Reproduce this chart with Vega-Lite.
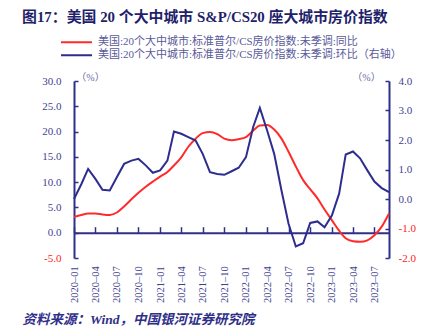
{
  "$schema": "https://vega.github.io/schema/vega-lite/v6.json",
  "width": 315,
  "height": 177,
  "autosize": {"type": "none"},
  "padding": {"left": 74, "top": 81, "right": 46, "bottom": 78},
  "background": "white",
  "title": {
    "text": "图17：美国 20 个大中城市 S&P/CS20 座大城市房价指数",
    "anchor": "start",
    "frame": "group",
    "dx": -52,
    "offset": 11,
    "font": "Liberation Serif, Noto Sans CJK SC",
    "fontSize": 14.9,
    "fontWeight": "bold",
    "color": "#1F1F6B"
  },
  "config": {"view": {"stroke": null}, "axis": {"grid": false}},
  "data": {
    "values": [
      {"date": "2020/01/01", "yoy": 3.1, "mom": 0.0},
      {"date": "2020/02/01", "yoy": 3.5, "mom": 0.5},
      {"date": "2020/03/01", "yoy": 3.8, "mom": 1.02},
      {"date": "2020/04/01", "yoy": 3.8, "mom": 0.68},
      {"date": "2020/05/01", "yoy": 3.6, "mom": 0.31},
      {"date": "2020/06/01", "yoy": 3.5, "mom": 0.29},
      {"date": "2020/07/01", "yoy": 4.0, "mom": 0.74},
      {"date": "2020/08/01", "yoy": 5.2, "mom": 1.19},
      {"date": "2020/09/01", "yoy": 6.6, "mom": 1.3},
      {"date": "2020/10/01", "yoy": 7.9, "mom": 1.36},
      {"date": "2020/11/01", "yoy": 9.1, "mom": 1.14},
      {"date": "2020/12/01", "yoy": 10.1, "mom": 0.89},
      {"date": "2021/01/01", "yoy": 11.1, "mom": 0.97},
      {"date": "2021/02/01", "yoy": 12.0, "mom": 1.3},
      {"date": "2021/03/01", "yoy": 13.3, "mom": 2.29},
      {"date": "2021/04/01", "yoy": 14.9, "mom": 2.21},
      {"date": "2021/05/01", "yoy": 17.0, "mom": 2.1},
      {"date": "2021/06/01", "yoy": 18.6, "mom": 1.98},
      {"date": "2021/07/01", "yoy": 19.7, "mom": 1.53},
      {"date": "2021/08/01", "yoy": 19.9, "mom": 0.91},
      {"date": "2021/09/01", "yoy": 19.5, "mom": 0.85},
      {"date": "2021/10/01", "yoy": 18.6, "mom": 0.82},
      {"date": "2021/11/01", "yoy": 18.3, "mom": 0.94},
      {"date": "2021/12/01", "yoy": 18.5, "mom": 1.06},
      {"date": "2022/01/01", "yoy": 18.9, "mom": 1.42},
      {"date": "2022/02/01", "yoy": 20.2, "mom": 2.45},
      {"date": "2022/03/01", "yoy": 21.2, "mom": 3.09},
      {"date": "2022/04/01", "yoy": 21.3, "mom": 2.32},
      {"date": "2022/05/01", "yoy": 20.4, "mom": 1.53},
      {"date": "2022/06/01", "yoy": 18.6, "mom": 0.29},
      {"date": "2022/07/01", "yoy": 16.0, "mom": -0.84},
      {"date": "2022/08/01", "yoy": 13.1, "mom": -1.61},
      {"date": "2022/09/01", "yoy": 10.4, "mom": -1.5},
      {"date": "2022/10/01", "yoy": 8.6, "mom": -0.81},
      {"date": "2022/11/01", "yoy": 6.8, "mom": -0.76},
      {"date": "2022/12/01", "yoy": 4.6, "mom": -0.96},
      {"date": "2023/01/01", "yoy": 2.5, "mom": -0.56},
      {"date": "2023/02/01", "yoy": 0.4, "mom": 0.18},
      {"date": "2023/03/01", "yoy": -1.1, "mom": 1.51},
      {"date": "2023/04/01", "yoy": -1.7, "mom": 1.61},
      {"date": "2023/05/01", "yoy": -1.8, "mom": 1.38},
      {"date": "2023/06/01", "yoy": -1.5, "mom": 0.97},
      {"date": "2023/07/01", "yoy": -0.5, "mom": 0.59},
      {"date": "2023/08/01", "yoy": 1.2, "mom": 0.37},
      {"date": "2023/09/01", "yoy": 3.8, "mom": 0.23}
    ]
  },
  "layer": [
    {
      "mark": {"type": "line", "strokeWidth": 2, "interpolate": "monotone"},
      "encoding": {
        "x": {
          "field": "date",
          "type": "temporal",
          "scale": {"domain": [{"year": 2020, "month": 1, "date": 1}, {"year": 2023, "month": 9, "date": 1}], "nice": false},
          "axis": {
            "orient": "bottom",
            "offset": -25.3,
            "format": "%Y–%m",
            "formatType": "time",
            "tickCount": {"interval": "month", "step": 3},
            "labelAngle": 270,
            "labelAlign": "right",
            "labelBaseline": "middle",
            "labelFont": "Liberation Serif",
            "labelFontSize": 10.5,
            "labelColor": "#3F3F90",
            "labelPadding": 39,
            "labelOverlap": false,
            "labelFlush": false,
            "domain": true,
            "domainColor": "#2F2F8A",
            "domainWidth": 2,
            "ticks": true,
            "tickColor": "#2F2F8A",
            "tickWidth": 1.5,
            "tickSize": -6,
            "title": "资料来源：Wind，中国银河证券研究院",
            "titleX": -52,
            "titleY": 87,
            "titleAlign": "left",
            "titleBaseline": "middle",
            "titleFont": "Liberation Serif, Noto Sans CJK SC",
            "titleFontSize": 13.5,
            "titleFontStyle": "italic",
            "titleFontWeight": "bold",
            "titleColor": "#2F2F8A"
          }
        },
        "y": {
          "field": "yoy",
          "type": "quantitative",
          "scale": {"domain": [-5, 30], "nice": false, "zero": false},
          "axis": {
            "orient": "left",
            "values": [-5, 0, 5, 10, 15, 20, 25, 30],
            "labelExpr": "replace(format(datum.value, '.1f'), '−', '-')",
            "labelColor": {"condition": {"test": "datum.value < 0", "value": "#FF2020"}, "value": "#3F3F90"},
            "labelFont": "Liberation Serif",
            "labelFontSize": 11,
            "labelAlign": "right",
            "labelBaseline": "middle",
            "labelOverlap": false,
            "labelFlush": false,
            "labelPadding": 17,
            "domain": true,
            "ticks": true,
            "domainColor": "#2F2F8A",
            "domainWidth": 2,
            "tickColor": "#2F2F8A",
            "tickWidth": 1.5,
            "tickSize": -4,
            "title": "（%）",
            "titleAngle": 0,
            "titleX": 16,
            "titleY": -4,
            "titleAlign": "center",
            "titleBaseline": "middle",
            "titleFont": "Liberation Serif, Noto Sans CJK SC",
            "titleFontSize": 10,
            "titleFontWeight": "normal",
            "titleColor": "#6A6AA6"
          }
        },
        "color": {
          "datum": "美国:20个大中城市:标准普尔/CS房价指数:未季调:同比",
          "type": "nominal",
          "scale": {
            "domain": ["美国:20个大中城市:标准普尔/CS房价指数:未季调:同比", "美国:20个大中城市:标准普尔/CS房价指数:未季调:环比（右轴）"],
            "range": ["#FF2B2B", "#2D2D8F"]
          },
          "legend": {
            "orient": "none",
            "legendX": -14,
            "legendY": -45,
            "title": null,
            "padding": 0,
            "symbolType": "stroke",
            "symbolSize": 961,
            "symbolStrokeWidth": 2,
            "clipHeight": 12.6,
            "rowPadding": 0,
            "labelOffset": 5,
            "labelFont": "Liberation Serif, Noto Sans CJK SC",
            "labelFontSize": 11,
            "labelColor": "#5A5A9A",
            "labelLimit": 400
          }
        }
      }
    },
    {
      "mark": {"type": "line", "strokeWidth": 2},
      "encoding": {
        "x": {"field": "date", "type": "temporal"},
        "y": {
          "field": "mom",
          "type": "quantitative",
          "scale": {"domain": [-2, 4], "nice": false, "zero": false},
          "axis": {
            "orient": "right",
            "values": [-2, -1, 0, 1, 2, 3, 4],
            "labelExpr": "replace(format(datum.value, '.1f'), '−', '-')",
            "labelColor": {"condition": {"test": "datum.value < 0", "value": "#FF2020"}, "value": "#3F3F90"},
            "labelFont": "Liberation Serif",
            "labelFontSize": 11,
            "labelAlign": "left",
            "labelBaseline": "middle",
            "labelOverlap": false,
            "labelFlush": false,
            "labelPadding": 13,
            "domainColor": "#2F2F8A",
            "domainWidth": 2,
            "tickColor": "#2F2F8A",
            "tickWidth": 1.5,
            "tickSize": -4,
            "title": "（%）",
            "titleAngle": 0,
            "titleX": -23,
            "titleY": -4,
            "titleAlign": "center",
            "titleBaseline": "middle",
            "titleFont": "Liberation Serif, Noto Sans CJK SC",
            "titleFontSize": 10,
            "titleFontWeight": "normal",
            "titleColor": "#6A6AA6"
          }
        },
        "color": {"datum": "美国:20个大中城市:标准普尔/CS房价指数:未季调:环比（右轴）", "type": "nominal"}
      }
    }
  ],
  "resolve": {"scale": {"y": "independent"}}
}
